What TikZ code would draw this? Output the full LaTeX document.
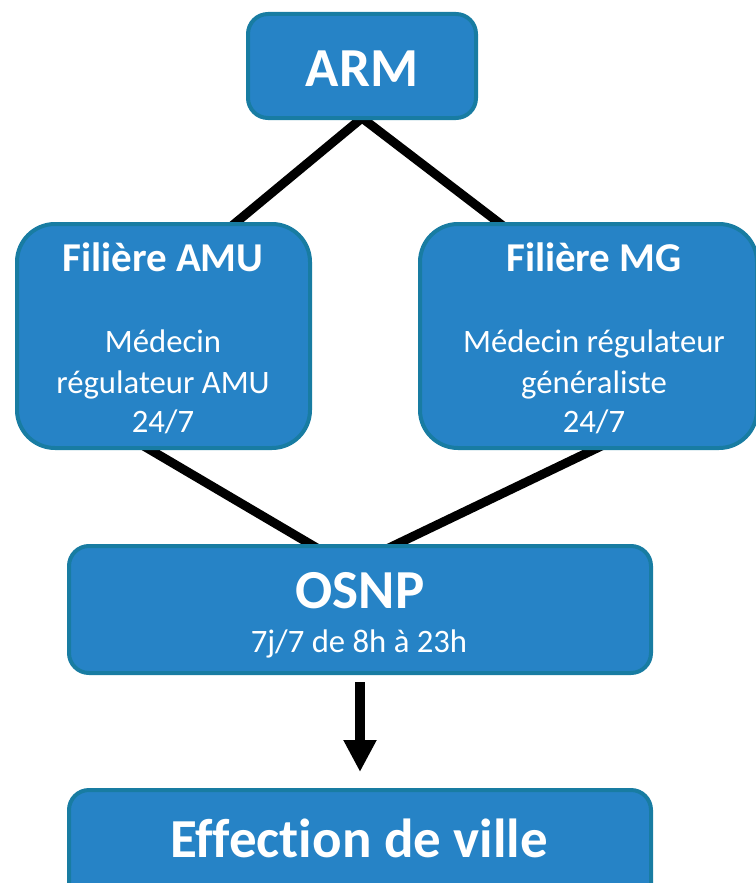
\documentclass[tikz,border=0pt]{standalone}
\usepackage{fontspec}
\setmainfont{Carlito}[Ligatures=NoCommon]
\usetikzlibrary{arrows.meta,backgrounds}
\definecolor{boxfill}{RGB}{38,131,198}
\definecolor{boxline}{RGB}{24,124,162}
\begin{document}
\begin{tikzpicture}[x=1pt,y=-1pt,
  box/.style={draw=boxline,fill=boxfill,line width=4pt,inner sep=0pt,rounded corners=#1},
  box/.default=20pt,
  bigt/.style={text=white,inner sep=0pt,anchor=base,font=\fontsize{55}{66}\selectfont\bfseries},
  midt/.style={text=white,inner sep=0pt,anchor=base,font=\fontsize{41}{49}\selectfont\bfseries},
  smallt/.style={text=white,inner sep=0pt,anchor=base,font=\fontsize{32.7}{39}\selectfont},
  link/.style={line width=9pt,black},
  arr/.style={line width=10pt,black,-{Triangle[width=31pt,length=32pt]}}]
\useasboundingbox (0,0) rectangle (755,883);
% boxes
\node[box, minimum width=228pt, minimum height=104pt] (arm) at (362,66) {};
\node[box=38pt, minimum width=293pt, minimum height=224pt] (amu) at (163.5,336) {};
\node[box=38pt, minimum width=337pt, minimum height=224pt] (mg) at (588.5,336) {};
\node[box, minimum width=582pt, minimum height=127pt] (osnp) at (360,609.5) {};
\node[box, minimum width=582pt, minimum height=150pt] (eff) at (360,865) {};
% texts
\node[bigt] (armt) at (362,86) {ARM};
\node[midt] (amut) at (163,271) {Filière AMU};
\node[smallt] (amu1) at (163,352) {Médecin};
\node[smallt] (amu2) at (163,393) {régulateur AMU};
\node[smallt] (amu3) at (163,432) {24/7};
\node[midt] (mgt) at (594,271) {Filière MG};
\node[smallt] (mg1) at (594,352) {Médecin régulateur};
\node[smallt] (mg2) at (594,393) {généraliste};
\node[smallt] (mg3) at (594,432) {24/7};
\node[bigt] (osnpt) at (360,608) {OSNP};
\node[smallt] (osnp1) at (359,652) {7j/7 de 8h à 23h};
\node[bigt] (efft) at (359,857) {Effection de ville};
% connectors behind boxes
\begin{scope}[on background layer]
\draw[link] ([yshift=2pt]arm.south) -- ([xshift=61pt,yshift=-10pt]amu.north);
\draw[link] ([yshift=2pt]arm.south) -- ([xshift=-77.5pt,yshift=-10pt]mg.north);
\draw[link] ([xshift=-21.5pt,yshift=5pt]amu.south) -- ([xshift=-38pt,yshift=-7pt]osnp.north);
\draw[link] ([xshift=15pt,yshift=5pt]mg.south) -- ([xshift=22.5pt,yshift=-7pt]osnp.north);
\end{scope}
\draw[arr] ([yshift=-7pt]osnp.south) -- ([yshift=16pt]eff.north);
\end{tikzpicture}
\end{document}
